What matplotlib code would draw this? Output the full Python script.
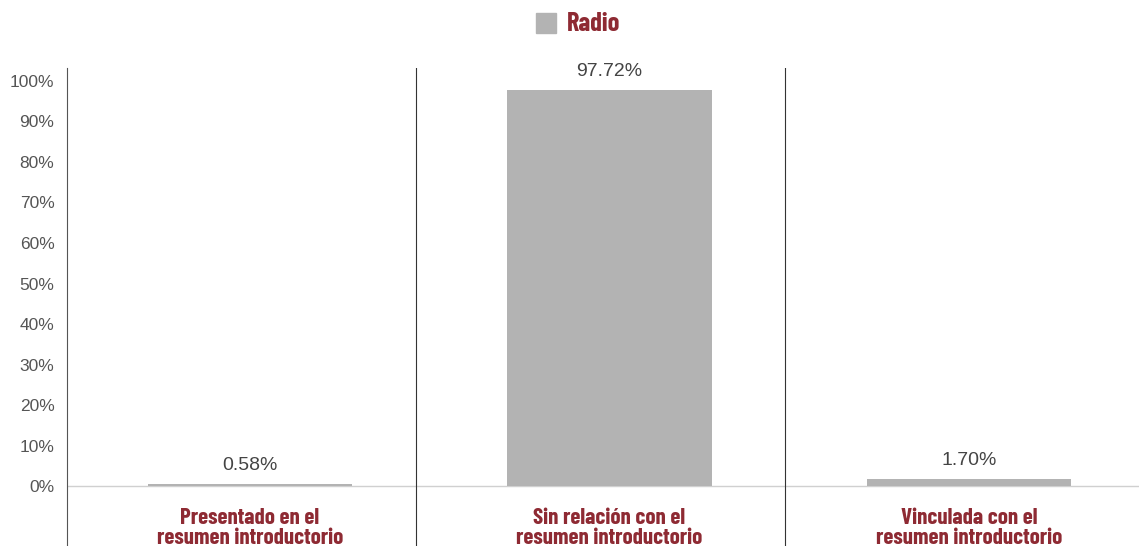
import matplotlib
matplotlib.use("Agg")
import matplotlib.pyplot as plt

categories = ["Presentado en el\nresumen introductorio",
              "Sin relación con el\nresumen introductorio",
              "Vinculada con el\nresumen introductorio"]
radio = [0.58, 97.72, 1.70]
value_labels = ["0.58%", "97.72%", "1.70%"]
yticks = [0, 10, 20, 30, 40, 50, 60, 70, 80, 90, 100]

label_font = ["Barlow Condensed", "Archivo Narrow", "DejaVu Sans"]
red = "#8e2a33"
bar_color = "#b3b3b3"

fig = plt.figure(figsize=(11.39, 5.46), dpi=100)
ax = fig.add_axes([67 / 1139, 0, 1 - 67 / 1139, (546 - 68) / 546])

x = list(range(len(categories)))
ax.bar(x, radio, width=0.57, color=bar_color, zorder=2)

for xi, v, lab in zip(x, radio, value_labels):
    ax.annotate(lab, (xi, v), xytext=(0, 7), textcoords="offset points",
                ha="center", va="bottom", fontsize=14, color="#444444",
                family="Liberation Sans")

for xi, cat in zip(x, categories):
    ax.text(xi, -5.5, cat, ha="center", va="top", fontsize=16.5,
            fontweight="bold", color=red, family=label_font, linespacing=1.0)

ax.set_xlim(-0.509, 2.473)
ax.set_ylim(-14.8, 103.2)

ax.axhline(0, color="#d0d0d0", lw=1, zorder=1)
for d in [0.462, 1.488]:
    ax.axvline(d, color="#333333", lw=0.8)

for s in ["top", "right", "bottom"]:
    ax.spines[s].set_visible(False)
ax.spines["left"].set_color("#555555")
ax.spines["left"].set_linewidth(0.8)

ax.set_xticks([])
ax.set_yticks(yticks)
ax.set_yticklabels([f"{t}%" for t in yticks], fontsize=12.5, color="#555555",
                   family="Liberation Sans")
ax.tick_params(axis="y", length=0, pad=9)

# legend
fig.patches.append(plt.Rectangle((536 / 1139, 1 - 33 / 546), 20 / 1139, 20 / 546,
                                 transform=fig.transFigure, color=bar_color))
fig.text(567 / 1139, 1 - 24 / 546, "Radio", ha="left", va="center",
         fontsize=19, fontweight="bold", color=red, family=label_font)

fig.savefig("out.png", dpi=100)
